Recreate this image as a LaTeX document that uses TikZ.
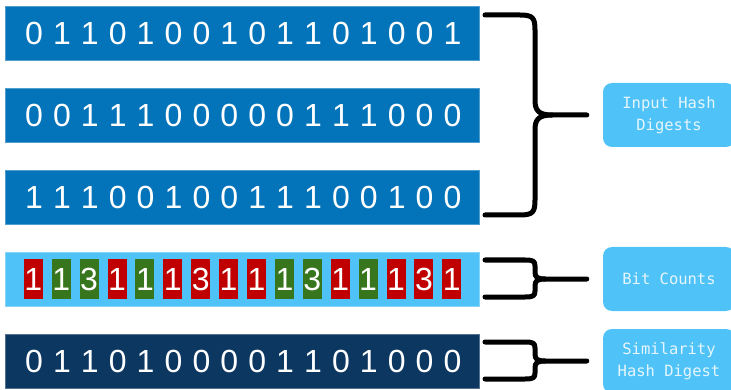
\documentclass[tikz,border=0pt]{standalone}
\usepackage{fontspec}
\setmainfont{Liberation Sans}
\newfontfamily\labelfont{DejaVu Sans Mono}

\definecolor{hashblue}{HTML}{0474BA}
\definecolor{countblue}{HTML}{4FC3F7}
\definecolor{digestnavy}{HTML}{0B3761}
\definecolor{cellred}{HTML}{C00000}
\definecolor{cellgreen}{HTML}{38761D}
\definecolor{tagblue}{HTML}{4FC3F7}
\definecolor{tagtext}{HTML}{E6F5FD}

\tikzstyle{bar} = [rectangle, anchor=north west, minimum width=474pt, minimum height=54pt, inner sep=0pt, line width=0.6pt]
\tikzstyle{bit} = [inner sep=0pt, text=white, text height=23pt, text depth=0pt, font=\fontsize{32}{32}\selectfont]
\tikzstyle{cell} = [rectangle, minimum width=19pt, minimum height=40pt, inner sep=0pt, text=white, text height=23pt, text depth=0pt, font=\fontsize{32}{32}\selectfont]
\tikzstyle{tag} = [rectangle, rounded corners=9pt, fill=tagblue, text=tagtext, minimum width=132pt, minimum height=64pt, align=center, font=\labelfont\fontsize{15.5}{22}\selectfont]
\tikzstyle{brace} = [line width=5pt, line cap=round, line join=round]

\begin{document}
\begin{tikzpicture}[x=1pt, y=-1pt]
    \useasboundingbox (0,0) rectangle (731,390);

    % Bars
    \node (in1) [bar, fill=hashblue, draw=hashblue!70!white] at (5,6) {};
    \node (in2) [bar, fill=hashblue, draw=hashblue!70!white] at (5,88) {};
    \node (in3) [bar, fill=hashblue, draw=hashblue!70!white] at (5,170) {};
    \node (counts) [bar, fill=countblue, draw=countblue!70!white] at (5,252) {};
    \node (digest) [bar, fill=digestnavy, draw=digestnavy!70!white] at (5,334) {};

    % Digits of the input digests and the result
    \foreach \row/\bits/\y in {1/{0,1,1,0,1,0,0,1,0,1,1,0,1,0,0,1}/33,
                               2/{0,0,1,1,1,0,0,0,0,0,1,1,1,0,0,0}/115,
                               3/{1,1,1,0,0,1,0,0,1,1,1,0,0,1,0,0}/197,
                               5/{0,1,1,0,1,0,0,0,0,1,1,0,1,0,0,0}/361}
        \foreach \b [count=\i] in \bits
            \node (b\row-\i) [bit] at (34+27.9*\i-27.9, \y) {\b};

    % Bit counts
    \foreach \c/\col [count=\i] in {1/cellred, 1/cellgreen, 3/cellgreen, 1/cellred,
                                    1/cellgreen, 1/cellred, 3/cellred, 1/cellred,
                                    1/cellred, 1/cellgreen, 3/cellgreen, 1/cellred,
                                    1/cellgreen, 1/cellred, 3/cellred, 1/cellred}
        \node (c-\i) [cell, fill=\col] at (33.3+27.9*\i-27.9, 279) {\c};

    % Labels
    \node (inlabel) [tag] at (669,115) {Input Hash\\Digests};
    \node (countlabel) [tag] at (669,279) {Bit Counts};
    \node (digestlabel) [tag] at (669,361) {Similarity\\Hash Digest};

    \coordinate (tip1) at ([xshift=-16pt]inlabel.west);
    \coordinate (tip2) at ([xshift=-16pt]countlabel.west);
    \coordinate (tip3) at ([xshift=-16pt]digestlabel.west);

    % Braces
    \draw [brace] (485,15) -- (520,15) .. controls (533,15) and (535,18) .. (535,30) -- (535,100)
        .. controls (535,110) and (538,115) .. (552,115) -- (tip1);
    \draw [brace] (552,115) .. controls (538,115) and (535,120) .. (535,130) -- (535,200)
        .. controls (535,212) and (533,215) .. (520,215) -- (485,215);

    \draw [brace] (485,260) -- (525,260) .. controls (533,260) and (535,261) .. (535,266) -- (535,272)
        .. controls (535,277) and (537,279) .. (545,279) -- (tip2);
    \draw [brace] (545,279) .. controls (537,279) and (535,281) .. (535,286) -- (535,291)
        .. controls (535,296) and (533,297) .. (525,297) -- (485,297);

    \draw [brace] (485,342) -- (525,342) .. controls (533,342) and (535,343) .. (535,348) -- (535,354)
        .. controls (535,359) and (537,361) .. (545,361) -- (tip3);
    \draw [brace] (545,361) .. controls (537,361) and (535,363) .. (535,368) -- (535,373)
        .. controls (535,378) and (533,379) .. (525,379) -- (485,379);

\end{tikzpicture}
\end{document}
